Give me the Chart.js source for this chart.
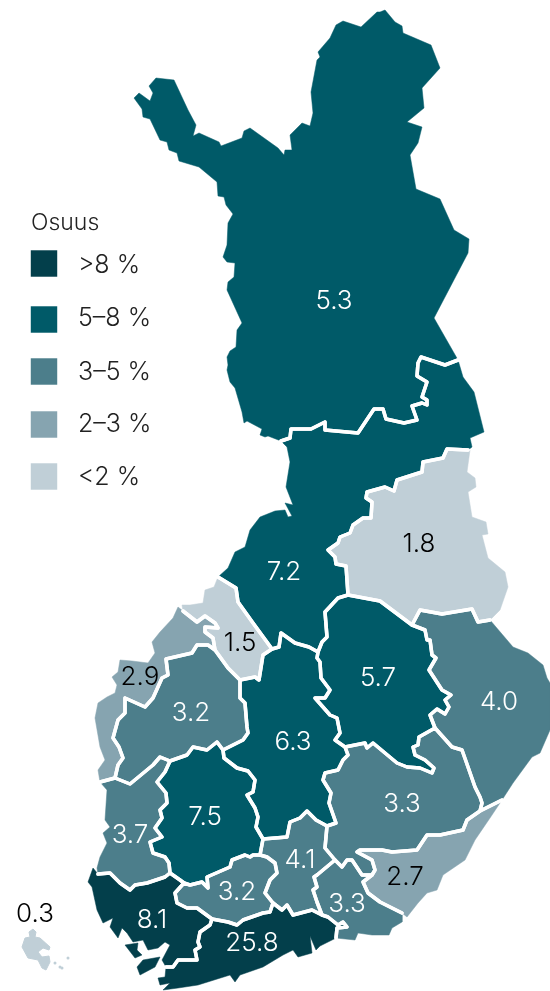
<!DOCTYPE html>
<html>
<head>
<meta charset="utf-8">
<style>
  html, body { margin: 0; padding: 0; background: #fff; }
  canvas { display: block; }
</style>
<script src="https://cdn.jsdelivr.net/npm/chart.js@4"></script>
</head>
<body>
<canvas id="map" width="550" height="991"></canvas>
<script>
// share classes, dark to light
const classLabels = ['>8 %', '5–8 %', '3–5 %', '2–3 %', '<2 %'];
const classColors = ['#033f4b', '#005a68', '#4c7e8b', '#86a4b0', '#c0cfd7'];
const legendTitle = 'Osuus';
const legendSwatches = [[44, 263.5], [44, 319.5], [44, 371.5], [44, 424.5], [44, 476.5]];
const legendTextPoints = [[78, 265], [78, 318], [78, 372], [78, 424], [78, 477]];
const legendTitlePoint = [31, 223];

// region shares, with the class each falls in and where the number sits
const shares = ['5.3', '7.2', '1.8', '1.5', '2.9', '3.2', '5.7', '4.0', '6.3', '3.3', '3.7', '7.5', '4.1', '2.7', '3.2', '3.3', '8.1', '25.8', '0.3'];
const shareClass = [1, 1, 4, 4, 3, 2, 1, 2, 1, 2, 2, 1, 2, 3, 2, 2, 0, 0, 4];
const sharePoints = [[334, 301], [284, 572], [419, 544], [240, 643], [140, 677], [191, 713], [378, 678], [499, 702], [293, 742], [402, 804], [130, 835], [205, 817], [300, 860], [405, 877], [237, 892], [347, 904], [152, 920], [252, 943], [35, 914]];

// region outlines
const lappi = [[134,98],[139,93],[150,101],[153,93],[149,86],[156,78],[174,80],[188,110],[196,125],[193,136],[199,133],[219,142],[221,146],[242,138],[244,131],[250,128],[278,148],[284,155],[285,150],[292,150],[290,135],[302,123],[310,126],[313,113],[311,92],[317,60],[320,57],[318,52],[330,38],[336,25],[343,21],[361,27],[377,12],[380,12],[385,10],[395,22],[402,26],[403,33],[431,45],[440,68],[422,88],[424,108],[407,122],[422,127],[418,143],[410,155],[416,189],[440,199],[454,230],[469,239],[468,253],[434,318],[458,360],[445,365],[421,357],[418,363],[417,376],[427,382],[422,397],[427,400],[427,405],[422,403],[412,406],[417,420],[404,423],[386,419],[383,409],[374,409],[358,433],[325,430],[325,422],[311,429],[291,429],[290,438],[281,441],[268,436],[265,437],[260,435],[262,429],[247,421],[244,423],[242,412],[235,388],[230,382],[227,370],[228,365],[227,357],[230,351],[236,347],[237,330],[242,323],[227,290],[228,282],[234,277],[235,263],[227,262],[223,257],[227,245],[228,223],[233,214],[226,205],[224,197],[218,196],[217,182],[199,167],[179,161],[177,153],[169,150],[167,142],[160,140],[150,119],[143,117],[142,109],[134,98]];
const pohjoisPohjanmaa = [[458,360],[463,377],[474,392],[484,432],[470,438],[472,447],[468,450],[447,449],[443,458],[423,462],[422,472],[397,480],[394,491],[385,487],[367,492],[366,498],[372,502],[371,518],[363,518],[353,525],[350,533],[340,537],[338,543],[328,550],[335,557],[336,564],[346,566],[348,595],[338,598],[325,612],[327,637],[322,642],[318,652],[309,647],[295,643],[281,633],[279,647],[272,649],[253,623],[238,602],[236,588],[218,577],[228,568],[235,552],[245,547],[250,530],[260,517],[275,511],[285,510],[288,517],[292,516],[285,503],[293,505],[286,487],[290,462],[287,447],[281,441],[290,438],[291,429],[311,429],[325,422],[325,430],[358,433],[374,409],[383,409],[386,419],[404,423],[417,420],[412,406],[422,403],[427,405],[427,400],[422,397],[427,382],[417,376],[418,363],[421,357],[445,365],[458,360]];
const kainuu = [[468,450],[447,449],[443,458],[423,462],[422,472],[397,480],[394,491],[385,487],[367,492],[366,498],[372,502],[371,518],[363,518],[353,525],[350,533],[340,537],[338,543],[328,550],[335,557],[336,564],[346,566],[348,595],[380,601],[412,625],[420,610],[442,614],[472,609],[478,622],[490,620],[500,610],[508,587],[505,572],[488,558],[482,535],[488,534],[486,522],[472,517],[468,492],[476,487],[475,478],[467,472],[470,450],[468,450]];
const keskiPohjanmaa = [[218,577],[236,588],[238,602],[253,623],[272,649],[263,655],[259,680],[255,677],[240,680],[228,668],[215,650],[213,638],[205,632],[205,627],[218,628],[215,623],[205,616],[197,622],[183,611],[182,605],[190,605],[203,603],[205,590],[214,587],[218,577]];
const pohjanmaa = [[178,607],[183,611],[197,622],[205,616],[215,623],[218,628],[205,627],[205,632],[213,638],[215,650],[208,645],[197,645],[192,653],[166,659],[168,675],[162,678],[153,698],[145,707],[125,698],[125,713],[118,720],[113,738],[119,747],[123,758],[118,765],[115,778],[100,782],[98,770],[105,760],[100,747],[95,718],[98,703],[107,697],[115,693],[117,685],[112,677],[118,672],[120,660],[132,661],[148,663],[155,653],[152,642],[160,632],[173,618],[178,607]];
const etelaPohjanmaa = [[197,645],[208,645],[215,650],[228,668],[240,680],[240,698],[245,703],[247,727],[248,733],[243,740],[223,750],[217,742],[207,750],[193,747],[187,755],[170,761],[160,757],[153,765],[130,784],[115,778],[118,765],[123,758],[119,747],[113,738],[118,720],[125,713],[125,698],[145,707],[153,698],[162,678],[168,675],[166,659],[192,653],[197,645]];
const satakunta = [[100,782],[115,778],[130,784],[153,765],[160,757],[170,761],[165,772],[157,782],[166,793],[167,803],[160,810],[162,818],[155,828],[162,837],[150,842],[153,853],[165,857],[169,863],[170,873],[165,877],[147,883],[135,885],[130,890],[120,883],[110,873],[98,874],[97,868],[100,857],[107,843],[103,833],[110,827],[105,820],[107,790],[100,782]];
const pirkanmaa = [[170,761],[187,755],[193,747],[207,750],[217,742],[223,750],[224,758],[237,768],[248,771],[255,780],[253,792],[247,795],[255,808],[258,817],[256,827],[263,839],[260,855],[253,855],[250,857],[245,855],[232,860],[230,867],[207,877],[208,888],[202,882],[190,885],[184,883],[180,880],[170,873],[169,863],[165,857],[153,853],[150,842],[162,837],[155,828],[162,818],[160,810],[167,803],[166,793],[157,782],[165,772],[170,761]];
const keskiSuomi = [[272,649],[279,647],[281,633],[295,643],[309,647],[318,652],[317,658],[320,662],[321,678],[330,690],[325,698],[315,698],[330,715],[337,718],[340,733],[335,740],[345,747],[348,755],[343,760],[338,770],[325,773],[323,780],[331,793],[329,803],[336,823],[327,826],[316,820],[307,811],[300,818],[290,822],[287,837],[263,839],[256,827],[258,817],[255,808],[247,795],[253,792],[255,780],[248,771],[237,768],[224,758],[223,750],[243,740],[248,733],[247,727],[245,703],[240,698],[240,680],[255,677],[259,680],[263,655],[272,649]];
const pohjoisSavo = [[348,595],[380,601],[412,625],[425,630],[427,640],[430,640],[432,655],[436,658],[429,670],[442,690],[451,695],[445,700],[449,707],[445,714],[437,709],[430,715],[435,728],[419,737],[418,745],[413,747],[415,755],[425,760],[434,768],[432,773],[420,768],[407,767],[397,763],[373,743],[367,748],[365,743],[345,747],[335,740],[340,733],[337,718],[330,715],[315,698],[325,698],[330,690],[321,678],[320,662],[317,658],[318,652],[322,642],[327,637],[325,612],[338,598],[348,595]];
const pohjoisKarjala = [[412,625],[420,610],[442,614],[472,609],[478,622],[490,620],[513,647],[528,653],[543,665],[547,678],[550,683],[550,730],[540,753],[532,757],[513,783],[502,800],[480,811],[482,803],[480,797],[475,787],[468,767],[462,750],[452,747],[435,728],[430,715],[437,709],[445,714],[449,707],[445,700],[451,695],[442,690],[429,670],[436,658],[432,655],[430,640],[427,640],[425,630],[412,625]];
const etelaSavo = [[345,747],[365,743],[367,748],[373,743],[397,763],[407,767],[420,768],[432,773],[434,768],[425,760],[415,755],[413,747],[418,745],[419,737],[435,728],[452,747],[462,750],[468,767],[475,787],[480,797],[482,803],[480,811],[467,820],[463,830],[440,835],[427,835],[417,850],[392,852],[382,850],[360,850],[357,852],[372,860],[375,870],[372,875],[367,875],[362,875],[352,860],[347,860],[342,867],[335,860],[325,848],[327,826],[336,823],[329,803],[331,793],[323,780],[325,773],[338,770],[343,760],[348,755],[345,747]];
const etelaKarjala = [[502,800],[490,818],[475,840],[465,860],[443,875],[437,890],[427,893],[418,903],[407,917],[402,913],[380,902],[368,893],[363,882],[372,875],[375,870],[372,860],[357,852],[360,850],[382,850],[392,852],[417,850],[427,835],[440,835],[463,830],[467,820],[480,811],[502,800]];
const kymenlaakso = [[317,875],[335,860],[342,867],[347,860],[352,860],[362,875],[367,875],[372,875],[363,882],[368,893],[380,902],[402,913],[402,922],[392,928],[389,935],[372,935],[358,933],[355,940],[336,938],[337,928],[347,927],[343,922],[338,925],[328,917],[322,915],[317,902],[313,890],[317,887],[314,877],[317,875]];
const paijatHame = [[307,811],[316,820],[327,826],[325,848],[335,860],[317,875],[314,877],[317,887],[313,890],[317,902],[322,915],[312,910],[293,915],[287,905],[282,910],[273,903],[265,893],[270,880],[277,873],[275,863],[267,857],[260,855],[263,839],[287,837],[290,822],[300,818],[307,811]];
const kantaHame = [[175,893],[184,883],[190,885],[202,882],[208,888],[207,877],[230,867],[232,860],[245,855],[250,857],[253,855],[260,855],[267,857],[275,863],[277,873],[270,880],[265,893],[273,903],[270,912],[263,913],[243,920],[237,925],[228,922],[212,919],[197,908],[187,908],[177,903],[175,893]];
const varsinaisSuomi = [[98,874],[110,873],[120,883],[130,890],[135,885],[147,883],[165,877],[170,873],[180,880],[184,883],[175,893],[177,903],[187,908],[197,908],[212,919],[210,925],[200,932],[198,942],[200,947],[195,950],[197,960],[178,960],[173,967],[166,967],[162,960],[170,945],[165,942],[158,948],[148,950],[143,940],[133,942],[127,933],[122,928],[118,938],[110,927],[113,918],[103,923],[97,910],[92,887],[88,882],[93,868],[98,874]];
const turkuIsletA = [[125,945],[138,943],[137,950],[142,955],[135,958],[125,945]];
const turkuIsletB = [[137,967],[143,960],[160,957],[155,967],[140,975],[137,967]];
const uusimaa = [[212,919],[228,922],[237,925],[243,920],[263,913],[270,912],[273,903],[282,910],[287,905],[293,915],[312,910],[322,915],[328,917],[338,925],[343,922],[347,927],[337,928],[336,938],[320,946],[316,950],[310,936],[312,953],[305,955],[298,957],[293,950],[283,955],[263,967],[240,975],[235,982],[230,975],[198,985],[178,988],[163,990],[170,983],[160,985],[158,978],[165,977],[166,967],[173,967],[178,960],[197,960],[195,950],[200,947],[198,942],[200,932],[210,925],[212,919]];
const ahvenanmaa = [[29,932],[33,929],[36,932],[35,937],[40,938],[50,947],[49,950],[43,948],[38,952],[42,957],[49,956],[50,962],[46,970],[42,968],[38,960],[28,958],[22,947],[25,938],[30,937],[29,932]];
const ahvenanmaaIslets = [[55,963],[60,967],[62,968],[68,958]];

const regions = [
  [lappi, 1], [pohjoisPohjanmaa, 1], [kainuu, 4], [keskiPohjanmaa, 4], [pohjanmaa, 3],
  [etelaPohjanmaa, 2], [satakunta, 2], [pirkanmaa, 1], [keskiSuomi, 1], [pohjoisSavo, 1],
  [pohjoisKarjala, 2], [etelaSavo, 2], [etelaKarjala, 3], [kymenlaakso, 2], [paijatHame, 2],
  [kantaHame, 2], [varsinaisSuomi, 0], [turkuIsletA, 0], [turkuIsletB, 0], [uusimaa, 0]
];

// an edge used by two regions is an inner border, anything else is coast and gets no white line
function edgeKey(ax, ay, bx, by) {
  return (ax < bx || (ax === bx && ay < by)) ? [ax, ay, bx, by].join() : [bx, by, ax, ay].join();
}

const edgeCount = {};
regions.forEach(function(r) {
  r[0].slice(1).forEach(function(p, i) {
    const k = edgeKey(r[0][i][0], r[0][i][1], p[0], p[1]);
    edgeCount[k] = (edgeCount[k] || 0) + 1;
  });
});

// first dataset is drawn last, so the white lines go in front of the fills
const borders = regions.map(function(r) {
  return {
    data: r[0],
    showLine: true,
    fill: false,
    borderWidth: 3.5,
    borderCapStyle: 'round',
    borderJoinStyle: 'round',
    pointRadius: 0,
    segment: {
      borderColor: function(ctx) {
        const a = ctx.p0.parsed;
        const b = ctx.p1.parsed;
        return edgeCount[edgeKey(a.x, a.y, b.x, b.y)] > 1 ? '#fff' : 'rgba(255,255,255,0)';
      }
    }
  };
});

const fills = regions.map(function(r) {
  return {
    data: r[0],
    showLine: true,
    fill: 'shape',
    backgroundColor: classColors[r[1]],
    borderColor: classColors[r[1]],
    borderWidth: 0.5,
    pointRadius: 0
  };
});

const datasets = borders.concat(fills);

// Ahvenanmaa has no white outline in the source
datasets.push({ data: ahvenanmaa, showLine: true, fill: 'shape', backgroundColor: classColors[4], borderColor: classColors[4], borderWidth: 1, pointRadius: 0 });
datasets.push({ data: ahvenanmaaIslets, showLine: false, backgroundColor: classColors[4], pointRadius: 1.5, pointBorderWidth: 0 });

// legend squares go through the same scales
datasets.push({
  data: legendSwatches,
  showLine: false,
  pointStyle: 'rect',
  pointRadius: 18.7,
  pointBorderWidth: 0,
  pointBackgroundColor: classColors
});

const textLabels = {
  id: 'textLabels',
  afterDraw: function(chart) {
    const ctx = chart.ctx;
    const x = chart.scales.x;
    const y = chart.scales.y;
    ctx.save();
    ctx.font = '300 26px Inter, "Open Sans", sans-serif';
    ctx.textBaseline = 'middle';

    ctx.textAlign = 'center';
    shares.forEach(function(s, i) {
      ctx.fillStyle = (shareClass[i] >= 3) ? '#000' : '#fff';
      ctx.fillText(s, x.getPixelForValue(sharePoints[i][0]), y.getPixelForValue(sharePoints[i][1]));
    });

    ctx.font = '300 25px Inter, "Open Sans", sans-serif';
    ctx.textAlign = 'left';
    ctx.fillStyle = '#222';
    classLabels.forEach(function(l, i) {
      ctx.fillText(l, x.getPixelForValue(legendTextPoints[i][0]), y.getPixelForValue(legendTextPoints[i][1]));
    });
    ctx.font = '300 23px Inter, "Open Sans", sans-serif';
    ctx.fillText(legendTitle, x.getPixelForValue(legendTitlePoint[0]), y.getPixelForValue(legendTitlePoint[1]));
    ctx.restore();
  }
};

new Chart(document.getElementById('map').getContext('2d'), {
  type: 'scatter',
  data: { datasets: datasets },
  plugins: [textLabels],
  options: {
    responsive: false,
    animation: false,
    layout: { padding: 0, autoPadding: false },
    clip: false,
    plugins: { legend: { display: false }, tooltip: { enabled: false } },
    scales: {
      x: { type: 'linear', min: 0, max: 550, display: false },
      y: { type: 'linear', min: 0, max: 991, reverse: true, display: false }
    }
  }
});
</script>
</body>
</html>
